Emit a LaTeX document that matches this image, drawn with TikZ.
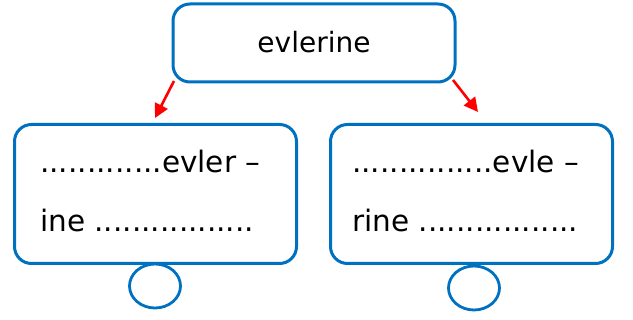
\documentclass[tikz,border=0pt]{standalone}
\usepackage{fontspec}
\setmainfont{DejaVu Sans}
\usetikzlibrary{arrows.meta,shapes.geometric}
\definecolor{boxblue}{HTML}{0070C0}
\definecolor{arrred}{HTML}{FF0000}
\tikzset{
  box/.style={draw=boxblue, line width=3pt, rounded corners=17pt, fill=white, inner sep=0pt},
  bubble/.style={draw=boxblue, line width=2.8pt, ellipse, inner sep=0pt, minimum width=51pt, minimum height=44pt},
  txt/.style={inner sep=0pt, font=\fontsize{29.5}{34}\selectfont, text=black},
  toptext/.style={inner sep=0pt, font=\fontsize{28}{34}\selectfont, text=black},
  arr/.style={draw=arrred, line width=2.6pt, -{Triangle[length=14pt,width=14pt]}}
}
\begin{document}
\begin{tikzpicture}[x=1pt,y=-1pt]
\useasboundingbox (0,0) rectangle (633,320);
% boxes
\node[box, minimum width=282pt, minimum height=78pt] (top) at (314,43) {};
\node[box, minimum width=282pt, minimum height=139pt] (lbox) at (155.5,194) {};
\node[box, minimum width=282pt, minimum height=139pt] (rbox) at (471.5,194) {};
% bubbles
\node[bubble] (lc) at (155,286) {};
\node[bubble] (rc) at (474,288) {};
% texts
\node[toptext, anchor=base] (toptxt) at (314,53) {evlerine};
\node[txt, anchor=base west] (l1) at (40,173) {.............evler –};
\node[txt, anchor=base west] (l2) at (40,232) {ine .................};
\node[txt, anchor=base west] (r1) at (352,173) {...............evle –};
\node[txt, anchor=base west] (r2) at (352,232) {rine .................};
% arrows
\coordinate (la) at (155,118);
\coordinate (ra) at (478,112);
\coordinate (ls) at (174,81);
\coordinate (rs) at (453,80);
\draw[arr] (ls) -- (la);
\draw[arr] (rs) -- (ra);
\end{tikzpicture}
\end{document}
